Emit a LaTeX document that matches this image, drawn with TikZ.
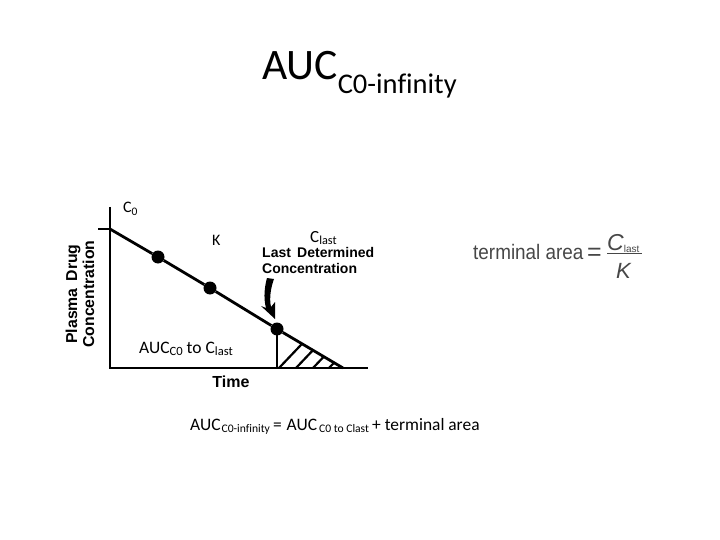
\documentclass[tikz,border=0pt]{standalone}
\usepackage{fontspec}
\setmainfont[Ligatures=NoCommon]{Carlito}
\newfontfamily\plotfont{Liberation Sans}
\usetikzlibrary{patterns,arrows.meta}
\tikzset{
  axisline/.style={line width=2.5pt},
  datadot/.style={circle,fill=black,inner sep=0pt,minimum size=13pt},
  plotlabel/.style={font=\plotfont\bfseries\fontsize{14}{16}\selectfont,align=left,inner sep=0pt},
  slidelabel/.style={font=\fontsize{16}{18}\selectfont,inner sep=0pt,anchor=base west},
  formula/.style={inner sep=0pt,anchor=base west,text=black!72},
}
\newcommand{\lowtext}[1]{\raisebox{-.3ex}{\scalebox{.72}{#1}}}
\newcommand{\lowsize}[1]{\raisebox{-.25ex}{\fontsize{11.6}{12}\selectfont #1}}
\begin{document}
\begin{tikzpicture}[x=1pt,y=-1pt]
\useasboundingbox (0,0) rectangle (720,540);

\node[inner sep=0pt,anchor=base west] (title) at (262,80) {\fontsize{43.5}{48}\selectfont AUC\raisebox{-.3em}{\fontsize{28.5}{32}\selectfont C0-infinity}};

% axes
\coordinate (ytop) at (110,207);
\coordinate (origin) at (110,368);
\coordinate (xend) at (368,368);
\coordinate (tickl) at (98,229);
\coordinate (c0) at (110,229);
\coordinate (lastpt) at (277,329);
\coordinate (foot) at (277,368);
\coordinate (zero) at (343,368);

% hatched tail
\begin{scope}
\clip (lastpt) -- (foot) -- (zero) -- cycle;
\foreach \hx in {279,296,313,329}
  \draw[line width=2.2pt] (\hx,368) -- (\hx+40,326);
\end{scope}
\draw[axisline] (ytop) -- (origin) -- (xend);
\draw[axisline] (tickl) -- (c0);
\draw[line width=1.6pt] (lastpt) -- (foot);

% decline
\node[datadot] (p1) at (158,257) {};
\node[datadot] (p2) at (210,288) {};
\node[datadot] (p3) at (lastpt) {};
\draw[line width=2.8pt] (c0) -- (p1) -- (p2) -- (p3) -- (zero);

% arrow
\fill (267,278) .. controls (265,285) and (263,297) .. (266,308)
  -- (261,306) -- (275,319) -- (275,302) -- (271,307)
  .. controls (269,298) and (271,287) .. (274,279) -- cycle;

\node[plotlabel,anchor=base west] (lastconc) at (262,273) {Last\, Determined\\[-.6pt]Concentration};
\node[plotlabel,anchor=base,font=\plotfont\bfseries\fontsize{16}{18}\selectfont] (timelabel) at (231,387) {Time};
\node[plotlabel,rotate=90,align=center,anchor=center,font=\plotfont\bfseries\fontsize{15.8}{17}\selectfont] (ylabel) at (80,294) {Plasma\, Drug\\Concentration};

\node[slidelabel] (c0label) at (123,213) {C\lowtext{0}};
\node[slidelabel] (klabel) at (212,245) {K};
\node[slidelabel,font=\fontsize{17}{18}\selectfont] (clast) at (310,242) {C\lowtext{last}};
\node[slidelabel,font=\fontsize{17.5}{20}\selectfont] (auclabel) at (139,353) {AUC\lowtext{C0} to C\lowtext{last}};
\node[slidelabel,font=\fontsize{17.5}{20}\selectfont] (auceq) at (190,430) {AUC\hspace{1pt}\lowsize{C0-infinity}\hspace{3pt}=\hspace{5pt}AUC\hspace{2pt}\lowsize{C0 to Clast}\hspace{3pt}+\hspace{4pt}{\fontsize{17.4}{20}\selectfont terminal area}};

% terminal area formula
\node[formula,font=\plotfont\fontsize{21}{24}\selectfont] (termarea) at (473,259) {\addfontfeature{FakeStretch=.9}terminal area};
\node[formula,font=\plotfont\fontsize{25}{28}\selectfont] (eqsign) at (587,260) {=};
\node[formula,font=\plotfont\itshape\fontsize{23}{26}\selectfont] (fracnum) at (607,250) {C\raisebox{-.1em}{\upshape\fontsize{10}{12}\selectfont last}};
\node[formula,font=\plotfont\itshape\fontsize{22}{26}\selectfont] (fracden) at (616,278) {K};
\draw[black!72,line width=1pt] (607,253) -- (642,253);
\end{tikzpicture}
\end{document}
